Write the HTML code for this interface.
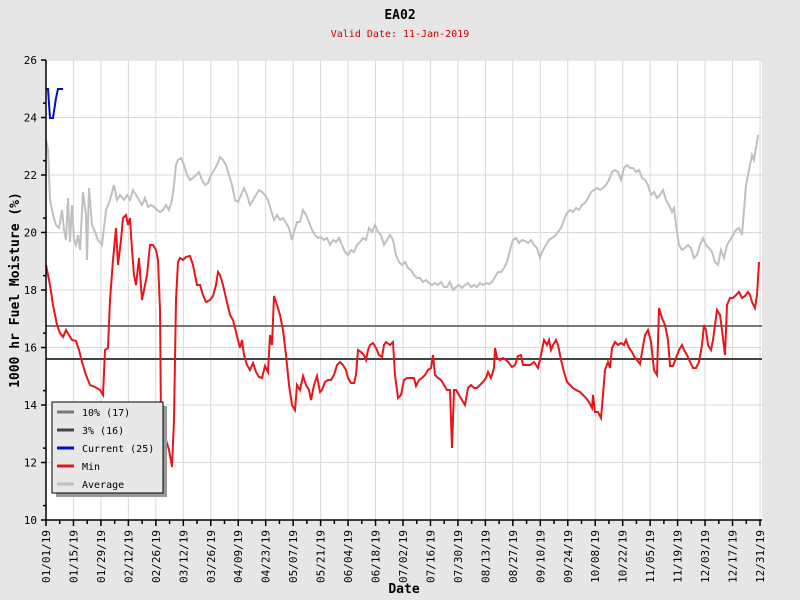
<!DOCTYPE html>
<html><head><meta charset="utf-8"><style>
body{margin:0;background:#e6e6e6;}
svg{display:block;font-family:"DejaVu Sans Mono","Liberation Mono",monospace;}
</style></head><body>
<svg id="s" width="800" height="600" xmlns="http://www.w3.org/2000/svg">
<rect width="800" height="600" fill="#e6e6e6"/>
<rect x="46" y="60" width="716" height="460" fill="#fff"/>
<g id="grid" stroke="#d8d8d8" stroke-width="1"></g>
<line x1="46" y1="326" x2="762" y2="326" stroke="#777" stroke-width="2"/>
<line x1="46" y1="359" x2="762" y2="359" stroke="#444" stroke-width="2"/>
<polyline fill="none" stroke="#c0c0c0" stroke-width="2" points="46,140 48,150 50,200 53,215 56,225 59,228 62,210 64,230 66,240 68,198 70,242 72,205 74,240 76,245 78,235 80,250 83,192 86,215 87,260 89,188 92,225 95,232 98,240 102,245 106,210 110,200 114,185 117,200 120,195 124,200 127,195 130,200 133,190 136,195 139,200 142,205 145,198 148,207 151,205 154,207 157,210 160,212 163,210 166,205 169,210 172,200 174,185 176,165 178,160 181,158 184,165 187,175 190,180 193,178 196,175 199,172 202,180 205,185 208,183 211,175 214,170 217,165 220,157 223,160 226,165 229,175 232,185 235,200 238,202 241,195 244,188 247,195 250,205 253,200 256,195 259,190 262,192 265,195 268,200 271,210 274,220 277,215 280,220 283,218 286,223 289,228 292,240 294,232 297,222 300,222 303,210 306,215 309,222 312,230 315,235 318,238 321,237 324,240 327,238 330,245 333,240 336,242 339,238 342,245 345,252 348,255 351,250 354,252 357,245 360,242 363,238 366,240 369,228 372,232 375,225 378,232 381,235 384,245 387,240 390,235 393,240 396,255 399,262 402,265 405,262 408,268 411,270 414,275 417,278 420,278 423,282 426,280 429,283 432,285 435,283 438,285 441,282 444,287 447,287 450,282 453,290 456,287 459,285 462,288 465,285 468,283 471,287 474,285 477,287 480,283 483,285 486,283 489,284 492,282 495,277 498,272 501,272 504,268 507,262 510,250 513,240 516,238 519,243 522,240 525,241 528,243 531,240 534,245 537,248 540,258 543,250 546,245 549,240 552,238 555,236 558,232 561,228 564,220 567,213 570,210 573,212 576,208 579,210 582,205 585,203 588,198 591,192 594,190 597,188 600,190 603,188 606,185 609,180 612,172 615,170 618,172 621,180 624,168 627,165 630,168 633,168 636,172 639,170 642,178 645,180 648,185 651,195 654,192 657,198 660,195 663,190 666,200 669,205 672,212 674,208 676,225 679,245 682,250 685,248 688,245 691,248 694,258 697,255 700,245 703,238 706,245 709,248 712,252 715,262 718,265 721,250 724,258 727,245 730,240 733,235 736,230 739,228 742,235 744,210 746,185 749,170 752,155 754,160 756,148 758,135"/>
<polyline fill="none" stroke="#e8161a" stroke-width="2" points="46,265 50,285 53,305 57,325 60,333 63,337 66,330 69,335 72,340 76,341 79,350 82,362 86,375 90,385 95,387 100,390 103,395 105,350 108,348 110,300 113,260 116,228 118,265 121,240 123,218 126,215 128,225 130,218 132,250 134,275 136,285 139,258 142,300 145,285 147,275 150,245 153,245 156,250 158,260 160,310 161,420 163,430 166,440 169,450 172,467 174,420 176,300 178,262 180,258 183,260 186,257 190,256 193,265 197,285 200,285 203,295 206,302 210,300 213,296 216,285 218,272 220,275 223,285 226,298 230,315 233,320 236,332 238,340 240,348 242,340 244,355 247,365 250,370 253,363 256,372 259,377 262,378 265,366 268,372 270,335 272,345 274,296 277,305 280,315 283,330 286,355 289,385 292,405 295,410 297,385 300,390 303,376 306,385 309,390 311,400 314,385 317,376 320,392 322,390 325,382 328,380 331,380 334,375 337,365 340,362 343,365 346,370 348,378 351,383 354,383 356,375 358,350 361,352 364,355 366,360 368,350 370,345 373,343 376,348 379,355 382,357 384,345 386,342 390,345 393,342 395,375 398,398 401,395 404,380 407,378 411,378 414,378 416,386 419,380 422,378 425,375 428,370 431,368 433,355 435,375 438,378 441,380 444,385 447,390 450,390 452,448 454,390 456,390 459,395 462,400 465,405 468,388 471,385 474,388 477,388 480,385 483,382 486,378 488,372 491,378 494,368 495,348 497,358 500,360 503,358 506,360 509,363 512,367 515,365 518,356 521,355 523,365 526,365 530,365 534,362 538,368 541,355 544,340 547,345 549,340 551,350 553,345 556,340 558,345 561,360 564,372 567,382 570,385 573,388 576,390 580,392 583,395 586,398 589,402 592,408 593,395 595,412 598,412 601,418 603,395 605,370 608,362 610,368 612,348 615,342 618,345 621,343 624,345 626,340 629,348 632,352 635,358 637,360 640,364 642,352 645,335 648,330 651,342 654,370 657,375 659,308 662,318 665,325 668,340 670,366 673,366 676,358 679,350 682,345 684,350 687,355 690,362 693,368 696,368 699,362 702,345 704,325 706,330 708,345 711,350 713,340 715,325 717,310 720,315 722,330 725,355 727,305 730,298 733,298 736,295 739,292 742,298 745,296 748,292 750,295 752,302 755,308 757,295 759,262"/>
<polyline fill="none" stroke="#0010cc" stroke-width="2" points="46,89 48,89 50,118 53,118 56,98 58,89 63,89"/>
<g id="axes" stroke="#000" stroke-width="1.5"></g>
<g id="labels" font-size="11" fill="#000"></g>
<rect x="56" y="406" width="111" height="91" fill="#999"/>
<rect x="52" y="402" width="111" height="91" fill="#e8e8e8" stroke="#000" stroke-width="1"/>
<g stroke-width="3">
<line x1="57" y1="412" x2="74" y2="412" stroke="#777"/>
<line x1="57" y1="430" x2="74" y2="430" stroke="#444"/>
<line x1="57" y1="448" x2="74" y2="448" stroke="#0010cc"/>
<line x1="57" y1="466" x2="74" y2="466" stroke="#e8161a"/>
<line x1="57" y1="484" x2="74" y2="484" stroke="#c0c0c0"/>
</g>
<g font-size="10" fill="#000">
<text x="82" y="416">10% (17)</text>
<text x="82" y="434">3% (16)</text>
<text x="82" y="452">Current (25)</text>
<text x="82" y="470">Min</text>
<text x="82" y="488">Average</text>
</g>
<text x="400" y="19" font-size="13" font-weight="bold" text-anchor="middle">EA02</text>
<text x="400" y="37" font-size="10" fill="#cc0000" text-anchor="middle">Valid Date: 11-Jan-2019</text>
<text x="404" y="593" font-size="13" font-weight="bold" text-anchor="middle">Date</text>
<text transform="translate(19,290) rotate(-90)" font-size="13" font-weight="bold" text-anchor="middle">1000 hr Fuel Moisture (%)</text>
</svg>
<script>
const NS="http://www.w3.org/2000/svg";
function el(p,t,a,txt){const e=document.createElementNS(NS,t);for(const k in a)e.setAttribute(k,a[k]);if(txt)e.textContent=txt;document.getElementById(p).appendChild(e);}
const dates=["01/01","01/15","01/29","02/12","02/26","03/12","03/26","04/09","04/23","05/07","05/21","06/04","06/18","07/02","07/16","07/30","08/13","08/27","09/10","09/24","10/08","10/22","11/05","11/19","12/03","12/17","12/31"];
const pd=714/364;
for(let i=0;i<27;i++){const x=46+i*14*pd;
 if(i>0)el("grid","line",{x1:x,y1:60,x2:x,y2:520});
 el("axes","line",{x1:x,y1:520,x2:x,y2:526});
 el("labels","text",{transform:`translate(${x+4},${530}) rotate(-90)`,"text-anchor":"end"},dates[i]+"/19");
}
for(let i=0;i<52;i++){const x=46+(i*14+7)*pd;if(x<762)el("axes","line",{x1:x,y1:520,x2:x,y2:524});}
for(let v=10;v<=26;v+=2){const y=520-(v-10)*28.75;
 if(v>10)el("grid","line",{x1:46,y1:y,x2:762,y2:y});
 el("axes","line",{x1:41,y1:y,x2:46,y2:y});
 el("labels","text",{x:37,y:y+4,"text-anchor":"end"},String(v));
 if(v<26){const y2=y-14.375;el("axes","line",{x1:43,y1:y2,x2:46,y2:y2});}
}
el("axes","line",{x1:46,y1:60,x2:46,y2:520});
el("axes","line",{x1:46,y1:520,x2:762,y2:520});
</script>
</body></html>
